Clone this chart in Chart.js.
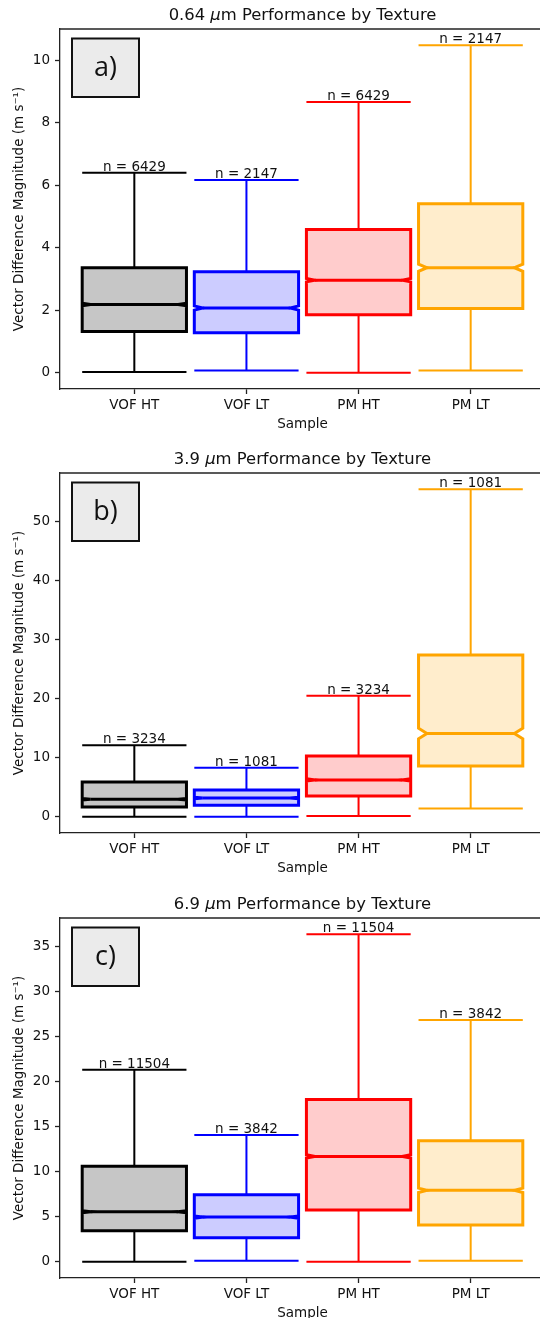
<!DOCTYPE html>
<html>
<head>
<meta charset="utf-8">
<script src="https://cdn.jsdelivr.net/npm/chart.js@4.4.1/dist/chart.umd.min.js"></script>
<style>
  body { margin: 0; background: #fff; overflow: hidden; width: 540px; height: 1318px; position: relative; }
  canvas { position: absolute; left: 0; }
</style>
</head>
<body>
<canvas id="chartA" width="546" height="444" style="top:0px"></canvas>
<canvas id="chartB" width="546" height="444" style="top:444px"></canvas>
<canvas id="chartC" width="546" height="444" style="top:889px"></canvas>
<script>
// categories (x axis)
const samples = ['VOF HT', 'VOF LT', 'PM HT', 'PM LT'];

// a) 0.64 um
const lowA   = [0.02, 0.07, 0.00, 0.07];
const q1A    = [1.32, 1.28, 1.85, 2.05];
const medA   = [2.18, 2.07, 2.96, 3.36];
const q3A    = [3.36, 3.23, 4.58, 5.41];
const highA  = [6.40, 6.17, 8.67, 10.48];
const countA = [6429, 2147, 6429, 2147];
const ticksA = [0, 2, 4, 6, 8, 10];

// b) 3.9 um
const lowB   = [0.00, 0.00, 0.10, 1.36];
const q1B    = [1.64, 1.92, 3.50, 8.60];
const medB   = [2.94, 3.17, 6.22, 14.1];
const q3B    = [5.88, 4.52, 10.3, 27.4];
const highB  = [12.1, 8.31, 20.5, 55.5];
const countB = [3234, 1081, 3234, 1081];
const ticksB = [0, 10, 20, 30, 40, 50];

// c) 6.9 um
const lowC   = [0.04, 0.15, 0.04, 0.15];
const q1C    = [3.47, 2.69, 5.76, 4.10];
const medC   = [5.57, 4.98, 11.7, 7.94];
const q3C    = [10.6, 7.46, 18.0, 13.44];
const highC  = [21.3, 14.06, 36.3, 26.8];
const countC = [11504, 3842, 11504, 3842];
const ticksC = [0, 5, 10, 15, 20, 25, 30, 35];

// styles
const edgeColors = ['#000000', '#0000ff', '#ff0000', '#ffa500'];
const fillColors = ['#c6c6c6', '#ccccff', '#ffcccc', '#ffedcc'];
const BOX_W = 0.93;      // box width in x units
const NOTCH_D = 0.075;   // notch depth in x units
const FONT = 'DejaVu Sans';
const AXIS_COL = '#222222';

function makeChart(canvasId, letter, wavelength, low, q1, med, q3, high, counts, yTicks) {
  const lo = Math.min(...low), hi = Math.max(...high);
  const pad = (hi - lo) * 0.05;

  const boxPlugin = {
    id: 'boxes' + letter,
    afterDatasetsDraw(chart) {
      const ctx = chart.ctx;
      const xs = chart.scales.x, ys = chart.scales.y;
      const area = chart.chartArea;
      ctx.save();
      ctx.beginPath();
      ctx.rect(area.left, area.top - 30, area.right - area.left, area.bottom - area.top + 30);
      ctx.clip();
      samples.forEach((s, i) => {
        const cx = xs.getPixelForValue(i + 1);
        const L = xs.getPixelForValue(i + 1 - BOX_W / 2);
        const R = xs.getPixelForValue(i + 1 + BOX_W / 2);
        const d = xs.getPixelForValue(i + 1 + NOTCH_D) - cx;
        const col = edgeColors[i];
        const iqr = q3[i] - q1[i];
        const ci = 1.57 * iqr / Math.sqrt(counts[i]);
        const yq1 = ys.getPixelForValue(q1[i]);
        const yq3 = ys.getPixelForValue(q3[i]);
        const ymed = ys.getPixelForValue(med[i]);
        const ylo = ys.getPixelForValue(med[i] - ci);
        const yhi = ys.getPixelForValue(med[i] + ci);
        const yLow = ys.getPixelForValue(low[i]);
        const yHigh = ys.getPixelForValue(high[i]);

        // whiskers and caps
        ctx.strokeStyle = col;
        ctx.lineWidth = 2;
        ctx.beginPath();
        ctx.moveTo(cx, yq3); ctx.lineTo(cx, yHigh);
        ctx.moveTo(cx, yq1); ctx.lineTo(cx, yLow);
        ctx.moveTo(L, yHigh); ctx.lineTo(R, yHigh);
        ctx.moveTo(L, yLow); ctx.lineTo(R, yLow);
        ctx.stroke();

        // notched box
        ctx.beginPath();
        ctx.moveTo(L, yq1);
        ctx.lineTo(R, yq1);
        ctx.lineTo(R, ylo);
        ctx.lineTo(R - d, ymed);
        ctx.lineTo(R, yhi);
        ctx.lineTo(R, yq3);
        ctx.lineTo(L, yq3);
        ctx.lineTo(L, yhi);
        ctx.lineTo(L + d, ymed);
        ctx.lineTo(L, ylo);
        ctx.closePath();
        ctx.fillStyle = fillColors[i];
        ctx.fill();
        ctx.lineWidth = 3;
        ctx.lineJoin = 'miter';
        ctx.stroke();

        // median
        ctx.beginPath();
        ctx.moveTo(L + d, ymed);
        ctx.lineTo(R - d, ymed);
        ctx.stroke();

        // count label
        ctx.fillStyle = '#111';
        ctx.font = '13.5px "' + FONT + '"';
        ctx.textAlign = 'center';
        ctx.textBaseline = 'alphabetic';
        ctx.fillText('n = ' + counts[i], cx, yHigh - 2);
      });
      ctx.restore();

      // top spine
      ctx.save();
      ctx.strokeStyle = AXIS_COL;
      ctx.lineWidth = 1.3;
      ctx.beginPath();
      ctx.moveTo(area.left, area.top);
      ctx.lineTo(area.right, area.top);
      ctx.stroke();

      // panel letter box
      const bx = area.left + 12, by = area.top + 9.5, bw = 67, bh = 58.5;
      ctx.fillStyle = '#ebebeb';
      ctx.fillRect(bx, by, bw, bh);
      ctx.strokeStyle = '#111';
      ctx.lineWidth = 2;
      ctx.strokeRect(bx, by, bw, bh);
      ctx.fillStyle = '#111';
      ctx.font = '27px "Open Sans"';
      ctx.textAlign = 'center';
      ctx.textBaseline = 'middle';
      ctx.fillText(letter + ')', bx + bw / 2, by + bh / 2 + 1);

      // title with italic mu
      const parts = [[wavelength + ' ', 'normal'], ['\u03bc', 'italic'], ['m Performance by Texture', 'normal']];
      let total = 0;
      parts.forEach(p => { ctx.font = p[1] + ' 16.4px "' + FONT + '"'; total += ctx.measureText(p[0]).width; });
      let tx = (area.left + area.right) / 2 - total / 2;
      ctx.fillStyle = '#111';
      ctx.textAlign = 'left';
      ctx.textBaseline = 'middle';
      parts.forEach(p => {
        ctx.font = p[1] + ' 16.4px "' + FONT + '"';
        ctx.fillText(p[0], tx, area.top - 13);
        tx += ctx.measureText(p[0]).width;
      });
      ctx.restore();
    }
  };

  return new Chart(document.getElementById(canvasId), {
    type: 'scatter',
    data: { datasets: [] },
    options: {
      responsive: false,
      animation: false,
      layout: { padding: { top: 29, right: 1, left: 0, bottom: 0 } },
      plugins: { legend: { display: false }, tooltip: { enabled: false }, title: { display: false } },
      scales: {
        x: {
          type: 'linear',
          min: 0.337,
          max: 4.663,
          afterFit: (scale) => { scale.height = 55; },
          afterBuildTicks: (scale) => { scale.ticks = samples.map((s, i) => ({ value: i + 1 })); },
          grid: { drawOnChartArea: false, drawTicks: true, tickLength: 5, tickColor: AXIS_COL, tickWidth: 1.3 },
          border: { display: true, color: AXIS_COL, width: 1.3 },
          ticks: {
            autoSkip: false, maxRotation: 0, padding: 3, color: '#111',
            font: { family: FONT, size: 13.5 },
            callback: (v) => samples[Math.round(v) - 1]
          },
          title: { display: true, text: 'Sample', color: '#111', font: { family: FONT, size: 13.5 }, padding: { top: 0, bottom: 11 } }
        },
        y: {
          type: 'linear',
          min: lo - pad,
          max: hi + pad,
          afterFit: (scale) => { scale.width = 60; },
          afterBuildTicks: (scale) => { scale.ticks = yTicks.map(v => ({ value: v })); },
          grid: { drawOnChartArea: false, drawTicks: true, tickLength: 5, tickColor: AXIS_COL, tickWidth: 1.3 },
          border: { display: true, color: AXIS_COL, width: 1.3 },
          ticks: { padding: 5, color: '#111', font: { family: FONT, size: 13.5 }, callback: (v) => String(v) },
          title: { display: true, text: 'Vector Difference Magnitude (m s\u207b\u00b9)', color: '#111', font: { family: FONT, size: 13.5 }, padding: { top: 11, bottom: 0 } }
        }
      }
    },
    plugins: [boxPlugin]
  });
}

makeChart('chartA', 'a', '0.64', lowA, q1A, medA, q3A, highA, countA, ticksA);
makeChart('chartB', 'b', '3.9', lowB, q1B, medB, q3B, highB, countB, ticksB);
makeChart('chartC', 'c', '6.9', lowC, q1C, medC, q3C, highC, countC, ticksC);
</script>
</body>
</html>
